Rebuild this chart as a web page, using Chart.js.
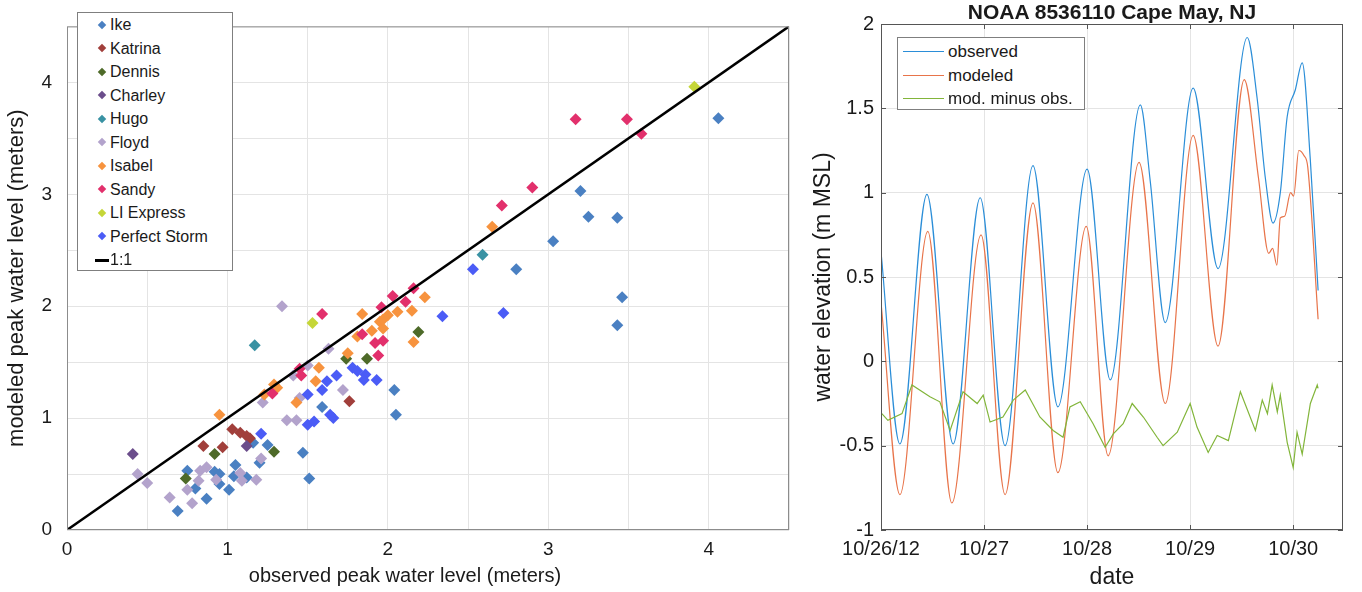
<!DOCTYPE html>
<html>
<head>
<meta charset="utf-8">
<script src="https://cdn.jsdelivr.net/npm/chart.js@4.4.0/dist/chart.umd.min.js"></script>
<style>
body { margin: 0; background: #fff; font-family: "Liberation Sans", Arial, sans-serif; color: #1a1a1a; }
.panel { position: absolute; top: 0; height: 592px; }
#leftPanel { left: 0; width: 800px; }
#rightPanel { left: 800px; width: 562px; }
.overlay { position: absolute; z-index: 2; white-space: nowrap; }
.legend { position: absolute; z-index: 2; background: #fff; border: 1px solid #7f7f7f; box-sizing: border-box; }
.legend .row { position: relative; height: 23.5px; line-height: 23.5px; }
.legend .mark { position: absolute; width: 6px; height: 6px; transform: rotate(45deg); }
.legend .bar { position: absolute; }
</style>
</head>
<body>
<div class="panel" id="leftPanel"><canvas id="scatterChart"></canvas></div>
<div class="panel" id="rightPanel"><canvas id="tideChart"></canvas></div>
<div class="legend" id="stormLegend" style="left:77px; top:12px; width:156px; height:259px; font-size:16px;"></div>
<div class="legend" id="tideLegend" style="left:897px; top:37px; width:188px; height:73px; font-size:17px; padding-top:2px;"></div>
<div class="overlay" style="left:205px; top:563px; width:400px; text-align:center; font-size:20px; line-height:24px;">observed peak water level (meters)</div>
<div class="overlay" style="left:881px; top:0px; width:462px; text-align:center; font-size:21px; font-weight:bold; line-height:23px;">NOAA 8536110 Cape May, NJ</div>
<script>
// ---- left panel: observed vs modeled peak water level (m) ----
const ike = [[0.69,0.17],[0.75,0.53],[0.80,0.37],[0.87,0.28],[0.92,0.52],[0.95,0.50],[0.95,0.41],[1.01,0.36],[1.04,0.48],[1.05,0.58],[1.12,0.47],[1.16,0.78],[1.20,0.60],[1.25,0.76],[1.47,0.69],[1.51,0.46],[1.59,1.10],[2.04,1.25],[2.05,1.03],[2.80,2.33],[3.03,2.58],[3.20,3.03],[3.25,2.80],[3.43,2.79],[3.46,2.08],[3.43,1.83],[4.06,3.68]];
const katrina = [[0.85,0.75],[0.97,0.74],[1.03,0.90],[1.08,0.87],[1.12,0.84],[1.14,0.82],[1.76,1.15]];
const dennis = [[0.74,0.46],[0.92,0.68],[1.29,0.70],[1.74,1.53],[1.87,1.53],[2.19,1.77]];
const charley = [[0.41,0.68],[1.12,0.75]];
const hugo = [[1.17,1.65],[2.59,2.46]];
const floyd = [[0.44,0.50],[0.50,0.42],[0.64,0.29],[0.75,0.36],[0.78,0.24],[0.82,0.44],[0.83,0.53],[0.87,0.56],[0.93,0.45],[1.08,0.51],[1.09,0.44],[1.18,0.45],[1.21,0.64],[1.22,1.14],[1.37,0.98],[1.43,0.98],[1.45,1.18],[1.41,1.38],[1.50,1.47],[1.63,1.62],[1.72,1.25],[1.34,2.00]];
const isabel = [[0.95,1.03],[1.23,1.21],[1.29,1.30],[1.31,1.27],[1.43,1.14],[1.55,1.33],[1.57,1.45],[1.75,1.58],[1.81,1.73],[1.84,1.93],[1.90,1.78],[1.95,1.86],[1.97,1.80],[1.97,1.88],[2.00,1.92],[2.06,1.95],[2.15,1.96],[2.16,1.68],[2.23,2.08],[2.65,2.71]];
const sandy = [[1.28,1.22],[1.45,1.44],[1.46,1.38],[1.59,1.93],[1.84,1.75],[1.92,1.67],[1.97,1.69],[1.94,1.56],[1.96,1.99],[2.03,2.09],[2.11,2.04],[2.16,2.16],[2.71,2.90],[2.90,3.06],[3.17,3.67],[3.49,3.67],[3.58,3.54]];
const liExpress = [[1.53,1.85],[3.91,3.96]];
const perfectStorm = [[1.21,0.86],[1.50,1.21],[1.50,0.94],[1.54,0.97],[1.59,1.25],[1.62,1.33],[1.64,1.03],[1.66,1.00],[1.68,1.38],[1.78,1.45],[1.81,1.42],[1.86,1.39],[1.85,1.34],[1.93,1.34],[2.34,1.91],[2.53,2.33],[2.72,1.94]];

const storms = ['Ike', 'Katrina', 'Dennis', 'Charley', 'Hugo', 'Floyd', 'Isabel', 'Sandy', 'LI Express', 'Perfect Storm'];
const stormColors = ['#4a80c2', '#a13f3b', '#4e6a29', '#6b4d8b', '#3992a3', '#b3a3cc', '#f7933e', '#e2306c', '#c5d637', '#4b5cf6'];
const stormPoints = [ike, katrina, dennis, charley, hugo, floyd, isabel, sandy, liExpress, perfectStorm];
const oneToOne = [0, 4.5];

// ---- right panel: Cape May gauge, hours from 10/26/12 00:00 ----
const dateLabels = ['10/26/12', '10/27', '10/28', '10/29', '10/30'];
const obsHours = [0, 4.4, 10.7, 16.8, 23.1, 28.9, 35.4, 41.2, 48.0, 53.4, 60.4, 62.7, 66.2, 72.7, 78.5, 85.3, 87.6, 89.5, 91.3, 93.0, 94.6, 96.5, 98.1, 100.0, 101.8];
const obsLevel = [0.65, -0.49, 0.99, -0.49, 0.97, -0.50, 1.16, -0.27, 1.14, -0.11, 1.52, 1.07, 0.23, 1.62, 0.55, 1.92, 1.56, 1.09, 0.82, 1.00, 1.45, 1.61, 1.77, 1.19, 0.42];
const modHours = [0, 4.4, 10.9, 16.5, 23.3, 28.9, 35.4, 41.2, 47.8, 52.9, 60.1, 66.2, 72.7, 78.5, 84.6, 87.9, 90.3, 91.2, 92.2, 93.0, 94.0, 95.4, 96.1, 97.3, 98.5, 99.4, 101.8];
const modLevel = [0.35, -0.79, 0.77, -0.84, 0.75, -0.79, 0.94, -0.66, 0.80, -0.56, 1.18, -0.25, 1.34, 0.09, 1.67, 1.09, 0.64, 0.67, 0.57, 0.85, 0.86, 1.00, 0.98, 1.25, 1.22, 1.15, 0.25];
const diffHours = [0.2, 1.6, 4.9, 7.2, 11.4, 13.7, 16.1, 19.1, 22.4, 23.8, 25.4, 28.4, 30.8, 33.6, 37.0, 40.1, 42.4, 44.0, 46.4, 49.4, 52.2, 54.1, 56.4, 58.5, 61.1, 64.3, 65.7, 69.0, 72.0, 73.6, 76.2, 78.3, 80.9, 83.7, 87.2, 88.8, 90.0, 91.1, 92.3, 93.0, 94.6, 96.0, 96.9, 98.1, 100.0, 101.6, 101.8];
const diffLevel = [-0.31, -0.35, -0.31, -0.14, -0.21, -0.24, -0.41, -0.18, -0.25, -0.20, -0.36, -0.33, -0.23, -0.17, -0.33, -0.41, -0.45, -0.27, -0.24, -0.37, -0.51, -0.43, -0.37, -0.25, -0.33, -0.45, -0.50, -0.42, -0.25, -0.39, -0.54, -0.44, -0.47, -0.18, -0.41, -0.23, -0.31, -0.14, -0.30, -0.20, -0.48, -0.63, -0.42, -0.55, -0.25, -0.14, -0.16];

const obsColor = '#2b8ed8', modColor = '#e8744a', diffColor = '#82b53a';

Chart.defaults.font.family = '"Liberation Sans", Arial, sans-serif';
Chart.defaults.color = '#1a1a1a';

// frame around the plot area, optional inward ticks (matlab style)
const boxPlugin = {
    id: 'box',
    afterDraw(chart, args, opts) {
        const ctx = chart.ctx, a = chart.chartArea;
        ctx.save();
        ctx.strokeStyle = opts.color;
        ctx.lineWidth = 1;
        ctx.strokeRect(a.left + 0.5, a.top + 0.5, a.right - a.left - 1, a.bottom - a.top - 1);
        if (opts.ticks) {
            const xs = chart.scales.x, ys = chart.scales.y;
            ctx.beginPath();
            xs.ticks.forEach(t => {
                const px = Math.round(xs.getPixelForValue(t.value)) + 0.5;
                ctx.moveTo(px, a.bottom); ctx.lineTo(px, a.bottom - 5);
                ctx.moveTo(px, a.top); ctx.lineTo(px, a.top + 5);
            });
            ys.ticks.forEach(t => {
                const py = Math.round(ys.getPixelForValue(t.value)) + 0.5;
                ctx.moveTo(a.left, py); ctx.lineTo(a.left + 5, py);
                ctx.moveTo(a.right, py); ctx.lineTo(a.right - 5, py);
            });
            ctx.stroke();
        }
        ctx.restore();
    }
};

const scatterSets = storms.map((name, i) => ({
    label: name,
    data: stormPoints[i].map(p => ({ x: p[0], y: p[1] })),
    backgroundColor: stormColors[i],
    borderColor: stormColors[i],
    borderWidth: 0,
    pointStyle: 'rectRot',
    pointRadius: 6,
    order: storms.length - i + 1
}));
scatterSets.push({
    type: 'line',
    label: '1:1',
    data: oneToOne.map(v => ({ x: v, y: v })),
    borderColor: '#000',
    borderWidth: 2.5,
    pointRadius: 0,
    order: 0
});

new Chart(document.getElementById('scatterChart'), {
    type: 'scatter',
    data: { datasets: scatterSets },
    options: {
        responsive: true,
        maintainAspectRatio: false,
        animation: false,
        layout: { padding: { top: 3, right: 11, left: 0, bottom: 0 } },
        plugins: { legend: { display: false }, tooltip: { enabled: false }, box: { color: '#8c8c8c' } },
        scales: {
            x: {
                type: 'linear', min: 0, max: 4.5,
                afterFit: s => { s.height = 62; },
                grid: { color: '#e4e4e4', drawTicks: false },
                border: { display: false },
                ticks: { stepSize: 0.5, includeBounds: false, autoSkip: false, maxRotation: 0, minRotation: 0, padding: 8, font: { size: 19 },
                    callback: v => Number.isInteger(v) ? String(v) : '' }
            },
            y: {
                min: 0, max: 4.5,
                afterFit: s => { s.width = 67; },
                grid: { color: '#e4e4e4', drawTicks: false },
                border: { display: false },
                ticks: { stepSize: 0.5, includeBounds: false, autoSkip: false, padding: 15, font: { size: 19 },
                    callback: v => Number.isInteger(v) ? String(v) : '' },
                title: { display: true, text: 'modeled peak water level (meters)', font: { size: 22 }, padding: { top: 4, bottom: 0 } }
            }
        }
    },
    plugins: [boxPlugin]
});

const toPoints = (hours, vals) => hours.map((h, i) => ({ x: h, y: vals[i] }));

new Chart(document.getElementById('tideChart'), {
    type: 'line',
    data: {
        datasets: [
            { label: 'observed', data: toPoints(obsHours, obsLevel), borderColor: obsColor, borderWidth: 1.2, pointRadius: 0, cubicInterpolationMode: 'monotone', order: 3 },
            { label: 'modeled', data: toPoints(modHours, modLevel), borderColor: modColor, borderWidth: 1.2, pointRadius: 0, cubicInterpolationMode: 'monotone', order: 2 },
            { label: 'mod. minus obs.', data: toPoints(diffHours, diffLevel), borderColor: diffColor, borderWidth: 1.2, pointRadius: 0, tension: 0, order: 1 }
        ]
    },
    options: {
        responsive: true,
        maintainAspectRatio: false,
        animation: false,
        layout: { padding: { top: 24, right: 19, left: 0, bottom: 0 } },
        plugins: { legend: { display: false }, tooltip: { enabled: false }, box: { color: '#555', ticks: true } },
        scales: {
            x: {
                type: 'linear', min: 0, max: 107.6,
                afterFit: s => { s.height = 62; },
                grid: { color: '#e4e4e4', drawTicks: false },
                border: { display: false },
                ticks: { stepSize: 24, includeBounds: false, autoSkip: false, maxRotation: 0, minRotation: 0, padding: 7, font: { size: 20 },
                    callback: v => dateLabels[Math.round(v / 24)] },
                title: { display: true, text: 'date', font: { size: 23 }, padding: { top: 0, bottom: 1 } }
            },
            y: {
                min: -1, max: 2,
                afterFit: s => { s.width = 81; },
                grid: { color: '#e4e4e4', drawTicks: false },
                border: { display: false },
                ticks: { stepSize: 0.5, includeBounds: false, autoSkip: false, padding: 7, font: { size: 20 },
                    callback: v => String(v) },
                title: { display: true, text: 'water elevation (m MSL)', font: { size: 23 }, padding: { top: 10, bottom: 0 } }
            }
        }
    },
    plugins: [boxPlugin]
});

// legends drawn as html boxes inside the plot areas
const stormLegend = document.getElementById('stormLegend');
storms.forEach((name, i) => {
    const row = document.createElement('div');
    row.className = 'row';
    row.innerHTML = `<span class="mark" style="left:21px; top:8.5px; background:${stormColors[i]}"></span><span style="position:absolute; left:32px;">${name}</span>`;
    stormLegend.appendChild(row);
});
const lineRow = document.createElement('div');
lineRow.className = 'row';
lineRow.innerHTML = '<span class="bar" style="left:17px; top:10.5px; width:14px; height:3px; background:#000"></span><span style="position:absolute; left:32px;">1:1</span>';
stormLegend.appendChild(lineRow);

const tideLegend = document.getElementById('tideLegend');
[['observed', obsColor], ['modeled', modColor], ['mod. minus obs.', diffColor]].forEach(e => {
    const row = document.createElement('div');
    row.className = 'row';
    row.innerHTML = `<span class="bar" style="left:5px; top:11px; width:41px; height:1px; background:${e[1]}"></span><span style="position:absolute; left:50px;">${e[0]}</span>`;
    tideLegend.appendChild(row);
});
</script>
</body>
</html>
